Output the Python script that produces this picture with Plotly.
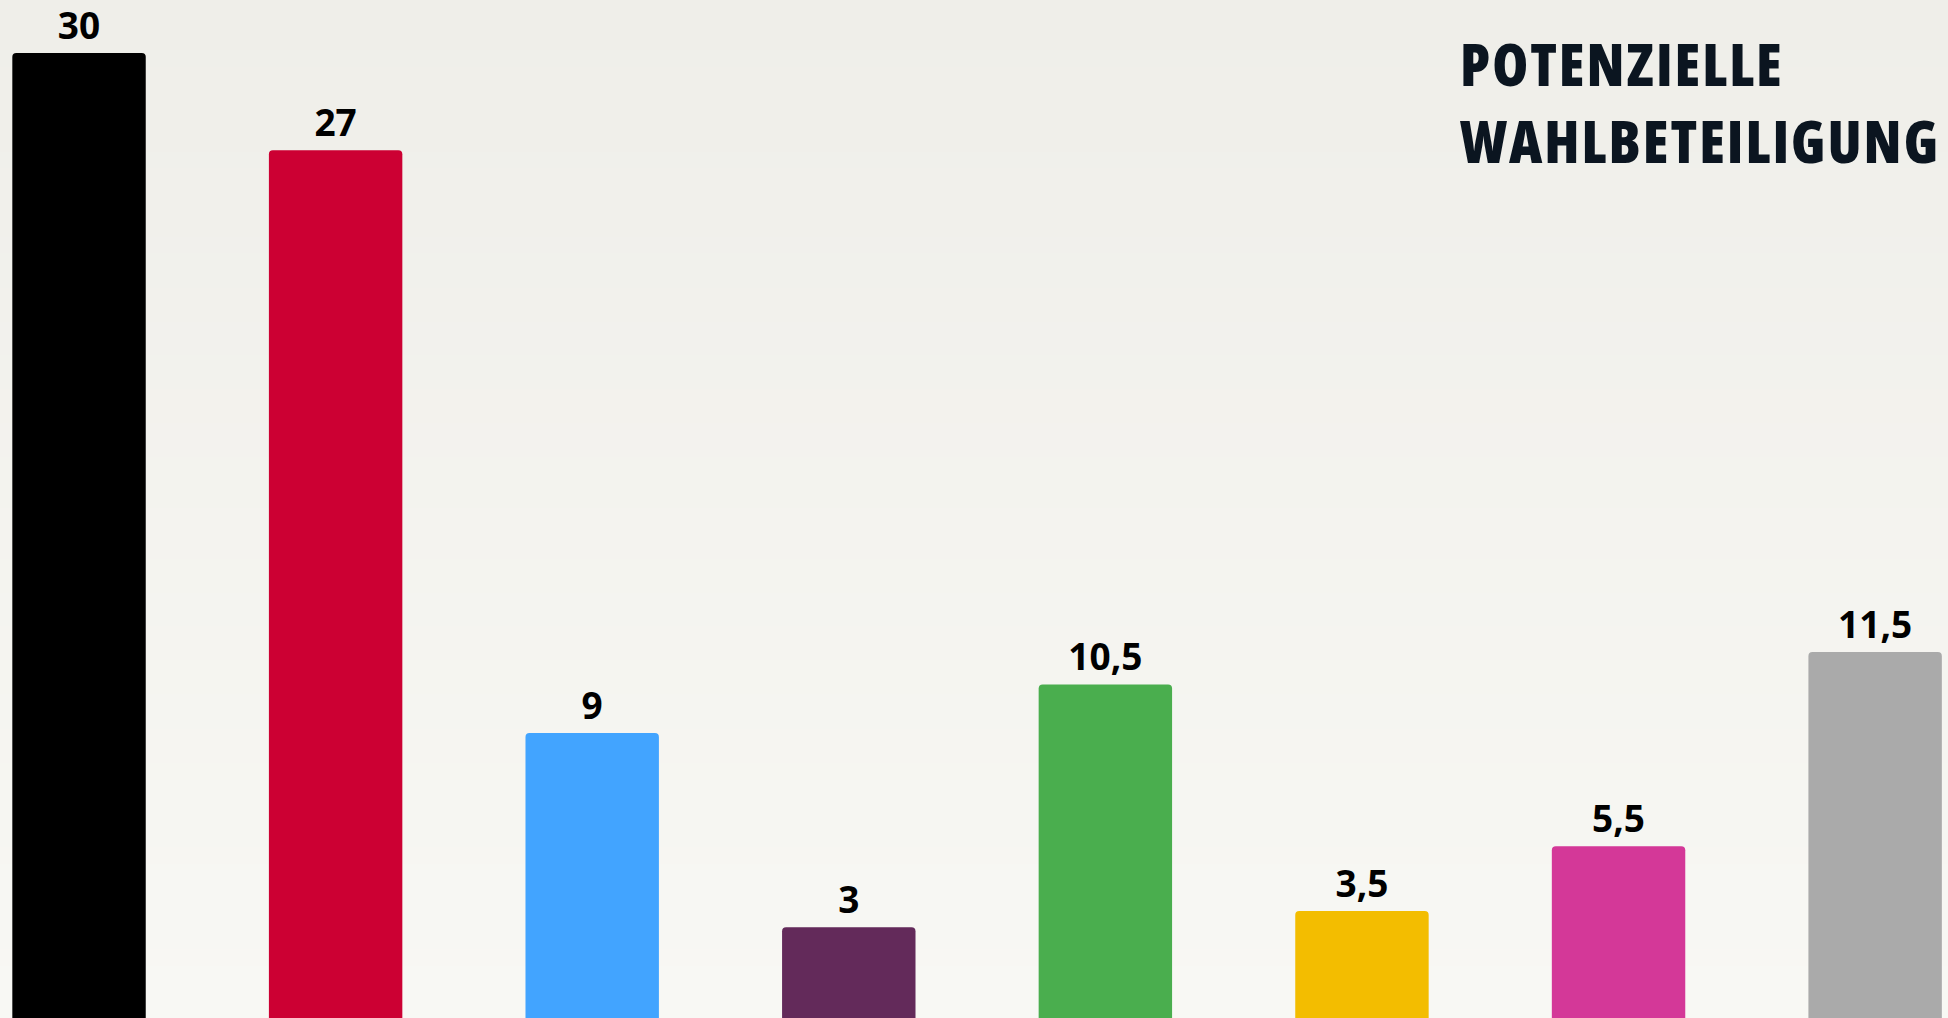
import plotly.graph_objects as go

# ---- data ----
parties = ["CDU/CSU", "SPD", "AfD", "BSW", "Grüne", "FDP", "Linke", "Sonstige"]
values = [30, 27, 9, 3, 10.5, 3.5, 5.5, 11.5]
colors = ["#000000", "#cc0033", "#42a4ff", "#632a5a", "#4aae4e", "#f3bd00", "#d43898", "#aaaaaa"]
title_lines = ["POTENZIELLE", "WAHLBETEILIGUNG"]


def fmt(v):
    s = ("%g" % v)
    return s.replace(".", ",")


labels = [fmt(v) for v in values]

W, H = 1948, 1018

fig = go.Figure(
    go.Bar(
        x=parties,
        y=values,
        width=0.52,
        marker=dict(color=colors, cornerradius=4, line=dict(width=0)),
        text=labels,
        textposition="outside",
        textfont=dict(family="Open Sans", size=37, color="#000000", weight="bold"),
        cliponaxis=False,
        hoverinfo="skip",
    )
)

# vertical background gradient (styling only)
top_c = (239, 238, 233)
bot_c = (248, 248, 244)
n = 60
shapes = []
for i in range(n):
    t = i / (n - 1)
    c = tuple(round(top_c[k] + (bot_c[k] - top_c[k]) * t) for k in range(3))
    shapes.append(dict(
        type="rect", xref="paper", yref="paper",
        x0=0, x1=1, y0=1 - (i + 1) / n, y1=1 - i / n + 0.001,
        fillcolor="rgb(%d,%d,%d)" % c, line=dict(width=0), layer="below",
    ))

title_font = dict(family="Open Sans", size=58, color="#0b1520", weight=800)
span = '<span style="font-stretch:condensed;font-weight:800;letter-spacing:2px">%s</span>'
annotations = [
    dict(text=span % title_lines[0], xref="paper", yref="paper", x=1458 / W, y=1 - 63 / H,
         xanchor="left", yanchor="middle", showarrow=False, font=title_font),
    dict(text=span % title_lines[1], xref="paper", yref="paper", x=1458 / W, y=1 - 141 / H,
         xanchor="left", yanchor="middle", showarrow=False, font=title_font),
]

fig.update_layout(
    width=W, height=H,
    margin=dict(l=0, r=0, t=0, b=0),
    paper_bgcolor="rgb(248,248,244)",
    plot_bgcolor="rgba(0,0,0,0)",
    showlegend=False,
    shapes=shapes,
    annotations=annotations,
    xaxis=dict(visible=False, range=[-0.308, 7.284], fixedrange=True),
    yaxis=dict(visible=False, range=[0.198, 31.64], fixedrange=True),
)

fig.write_html(
    "out.html",
    config={"displayModeBar": False},
    post_script="document.body.style.margin='0';document.body.style.overflow='hidden';",
)
